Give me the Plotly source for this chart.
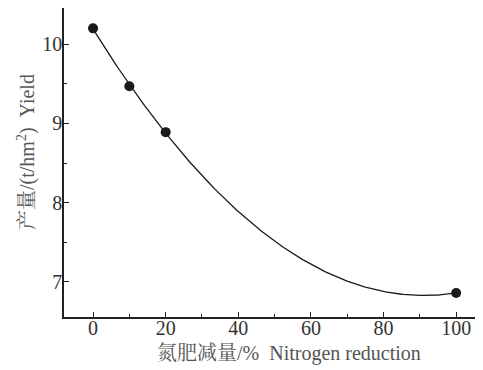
import numpy as np
import plotly.graph_objects as go

# Data
nitrogen_reduction = [0, 10, 20, 100]
yield_values = [10.2, 9.47, 8.89, 6.86]
x_ticks = [0, 20, 40, 60, 80, 100]
y_ticks = [7, 8, 9, 10]
x_title = "氮肥减量/%  Nitrogen reduction"
y_title = "产量/(t/hm<sup>2</sup>)  Yield"

# quadratic trend fitted to the data
coef = np.polyfit(nitrogen_reduction, yield_values, 2)
xf = np.linspace(0, 100, 201)
yf = np.polyval(coef, xf)

serif = "Liberation Serif, Noto Serif CJK SC, Noto Sans CJK SC, serif"

fig = go.Figure()
fig.add_trace(go.Scatter(x=xf, y=yf, mode="lines",
                         line=dict(color="#1a1a1a", width=1.3), hoverinfo="skip"))
fig.add_trace(go.Scatter(x=nitrogen_reduction, y=yield_values, mode="markers",
                         marker=dict(color="#1a1a1a", size=10)))

# page has an 8px body margin, so the figure is sized to fit the window
fig.update_layout(
    width=475, height=362,
    margin=dict(l=56, r=0, t=0, b=53, autoexpand=False),
    paper_bgcolor="white", plot_bgcolor="white",
    showlegend=False,
    font=dict(family=serif, color="#333333"),
)
fig.update_xaxes(
    range=[-8, 107.4], tickvals=x_ticks, ticks="inside", ticklen=5,
    tickwidth=1.2, tickcolor="#222", automargin=False, ticklabelstandoff=-8,
    minor=dict(ticks="inside", ticklen=3, dtick=10, tick0=0, tickcolor="#222"),
    showline=True, linecolor="#222", linewidth=1.5, showgrid=False, zeroline=False,
    tickfont=dict(size=20, family=serif, color="#333"),
)
fig.update_yaxes(
    range=[6.557, 10.457], tickvals=y_ticks, ticks="inside", ticklen=5,
    tickwidth=1.2, tickcolor="#222", automargin=False, ticklabelstandoff=-4,
    minor=dict(ticks="inside", ticklen=3, dtick=0.5, tick0=0, tickcolor="#222"),
    showline=True, linecolor="#222", linewidth=1.5, showgrid=False, zeroline=False,
    tickfont=dict(size=20, family=serif, color="#333"),
)
fig.add_annotation(text=x_title, xref="paper", yref="paper", x=0.538, y=0,
                   xanchor="center", yanchor="middle", yshift=-36, showarrow=False,
                   font=dict(size=20, family=serif, color="#555"))
fig.add_annotation(text=y_title, xref="paper", yref="paper", x=0, y=0.534,
                   xanchor="center", yanchor="middle", xshift=-37, textangle=-90,
                   showarrow=False, font=dict(size=20, family=serif, color="#555"))

fig.write_html("out.html")
